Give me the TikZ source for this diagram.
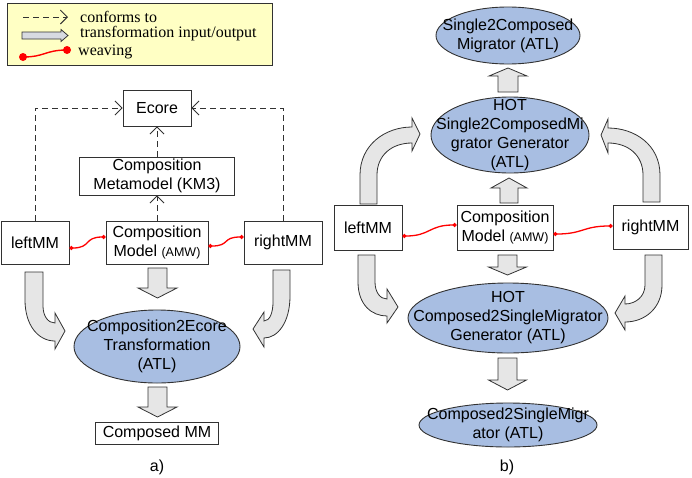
\documentclass[tikz,border=0pt]{standalone}
\usepackage{fontspec}
\setmainfont{Liberation Sans}
\newfontfamily\legfont{Liberation Serif}
\usetikzlibrary{arrows.meta,shapes.geometric,calc}
\definecolor{ellfill}{RGB}{168,190,226}
\definecolor{arrfill}{RGB}{230,230,230}
\definecolor{legfill}{RGB}{255,255,196}
\definecolor{edgec}{RGB}{50,50,50}
\newcommand\blkv[6]{% xc, ytop, ybase, ytip, shaft half, head half
  \draw[blk] ({#1-#5},#2) -- ({#1-#5},#3) -- ({#1-#6},#3) -- (#1,#4) -- ({#1+#6},#3) -- ({#1+#5},#3) -- ({#1+#5},#2) -- cycle;}
\begin{document}
\begin{tikzpicture}[x=1pt,y=-1pt,
  box/.style={draw=edgec, line width=0.9pt, fill=white, inner sep=0pt, align=center, font=\fontsize{16}{19}\selectfont},
  ell/.style={ellipse, draw=edgec, line width=0.9pt, fill=ellfill, inner sep=0pt},
  elltext/.style={inner sep=0pt, align=center, font=\fontsize{16}{19}\selectfont},
  conf/.style={draw=edgec, line width=0.9pt, dash pattern=on 6pt off 4pt, -{Straight Barb[length=7pt,width=14pt]}},
  weave/.style={red, line width=1.3pt, {Circle[length=4pt]}-{Circle[length=4pt]}},
  blk/.style={draw=edgec, line width=0.8pt, fill=arrfill, line join=miter},
  legtext/.style={anchor=west, inner sep=0pt, font=\legfont\fontsize{16}{19}\selectfont}]
\useasboundingbox (0,0) rectangle (692,477);

% legend
\draw[draw=edgec, line width=0.9pt, fill=legfill] (7,3) rectangle (272,65);
\coordinate (l1a) at (23,17); \coordinate (l1b) at (68,17);
\draw[conf] (l1a) -- (l1b);
\node[legtext] (lt1) at (80,17) {conforms to};
\draw[blk, fill={rgb,255:red,215;green,218;blue,225}] (22,32) -- (61,32) -- (61,29.5) -- (68,35.5) -- (61,41.5) -- (61,39) -- (22,39) -- cycle;
\node[legtext] (lt2) at (80,34) {transformation input/output};
\coordinate (l3a) at (23,57); \coordinate (l3b) at (67,50);
\draw[red, line width=1.4pt] (l3a) .. controls (45,57) and (45,50) .. (l3b);
\fill[red] (l3a) circle (4); \fill[red] (l3b) circle (4);
\node[legtext] (lt3) at (78,52) {weaving};

% part a
\node[box, minimum width=68, minimum height=36] (ecore) at (157,108) {Ecore};
\node[box, minimum width=155, minimum height=38] (km3) at (157,176) {Composition\\Metamodel (KM3)};
\node[box, minimum width=68, minimum height=43] (leftA) at (35,242.5) {leftMM};
\node[box, minimum width=102, minimum height=43] (cmA) at (157,242.5) {Composition\\Model {\fontsize{12.5}{19}\selectfont(AMW)}};
\node[box, minimum width=78, minimum height=43] (rightA) at (283,242.5) {rightMM};
\node[ell, minimum width=166, minimum height=73] (ellA) at (157,346.5) {};
\node[elltext] (ellAt) at (ellA) {Composition2Ecore\\Transformation\\(ATL)};
\node[box, minimum width=123, minimum height=22] (cmm) at (157,433) {Composed MM};
\node[font=\fontsize{16}{19}\selectfont] (labA) at (157,467) {a)};

\draw[conf] (leftA.north) |- (ecore.west);
\draw[conf] (rightA.north) |- (ecore.east);
\draw[conf] (cmA.north) -- (km3.south);
\draw[conf] (km3.north) -- (ecore.south);
\draw[weave] ($(leftA.east)+(0,5.5)$) .. controls +(22,0) and +(-22,0) .. ($(cmA.west)+(0,-5.5)$);
\draw[weave] ($(cmA.east)+(0,3.5)$) .. controls +(22,0) and +(-22,0) .. ($(rightA.west)+(0,-5.5)$);

\blkv{157.5}{268}{288}{298}{9.5}{19.5}
\blkv{157.5}{387}{407}{417}{9.5}{19.5}
\draw[blk] (25,272) -- (25,300) .. controls (25,325) and (38,341) .. (55,341) -- (55,349) -- (65,331) -- (55,313) -- (55,323) .. controls (48,323) and (43,316) .. (43,306) -- (43,272) -- cycle;
\draw[blk] (290,270) -- (290,296) .. controls (290,322) and (278,338) .. (264,338) -- (264,347) -- (253,329) -- (264,312) -- (264,321) .. controls (270,321) and (273,312) .. (273,302) -- (273,270) -- cycle;

% part b
\node[ell, minimum width=144, minimum height=57] (s2c) at (508,35.5) {};
\node[elltext] (s2ct) at (s2c) {Single2Composed\\Migrator (ATL)};
\node[ell, minimum width=158, minimum height=76] (hotS) at (510,135) {};
\node[elltext] (hotSt) at (hotS) {HOT\\Single2ComposedMi\\grator Generator\\(ATL)};
\node[box, minimum width=68, minimum height=45] (leftB) at (368,227.5) {leftMM};
\node[box, minimum width=96, minimum height=45] (cmB) at (505,227.5) {Composition\\Model {\fontsize{12.5}{19}\selectfont(AMW)}};
\node[box, minimum width=75, minimum height=44] (rightB) at (650.5,227) {rightMM};
\node[ell, minimum width=200, minimum height=70] (hotC) at (508,318) {};
\node[elltext] (hotCt) at (hotC) {HOT\\Composed2SingleMigrator\\Generator (ATL)};
\node[ell, minimum width=178, minimum height=44] (c2s) at (508,425) {};
\node[elltext] (c2st) at (c2s) {Composed2SingleMigr\\ator (ATL)};
\node[font=\fontsize{16}{19}\selectfont] (labB) at (507,467) {b)};

\draw[weave] ($(leftB.east)+(0,8.5)$) .. controls +(28,0) and +(-28,0) .. ($(cmB.west)+(0,-2.5)$);
\draw[weave] ($(cmB.east)+(0,6.5)$) .. controls +(30,0) and +(-30,0) .. ($(rightB.west)+(0,-1)$);

\blkv{508}{92}{76}{68}{10}{19}
\blkv{509}{203}{188}{178}{9}{18}
\blkv{507.5}{255}{267}{275}{9.5}{19}
\blkv{507.5}{358}{380}{390}{9.5}{19}
\draw[blk] (360,204) -- (360,175) .. controls (360,145) and (385,127) .. (412,127) -- (412,118) -- (420,134) -- (412,151) -- (412,143) .. controls (392,143) and (377,155) .. (377,175) -- (377,204) -- cycle;
\draw[blk] (660,202) -- (660,175) .. controls (660,145) and (635,128) .. (608,128) -- (608,119) -- (601,135) -- (608,153) -- (608,143) .. controls (628,143) and (643,155) .. (643,175) -- (643,202) -- cycle;
\draw[blk] (358,255) -- (358,282) .. controls (358,305) and (372,316) .. (387,316) -- (387,323) -- (398,307) -- (387,289) -- (387,299) .. controls (380,299) and (375,292) .. (375,282) -- (375,255) -- cycle;
\draw[blk] (662,255) -- (662,285) .. controls (662,308) and (645,322) .. (625,322) -- (625,330) -- (615,313) -- (625,296) -- (625,304) .. controls (635,304) and (645,297) .. (645,285) -- (645,255) -- cycle;
\end{tikzpicture}
\end{document}
